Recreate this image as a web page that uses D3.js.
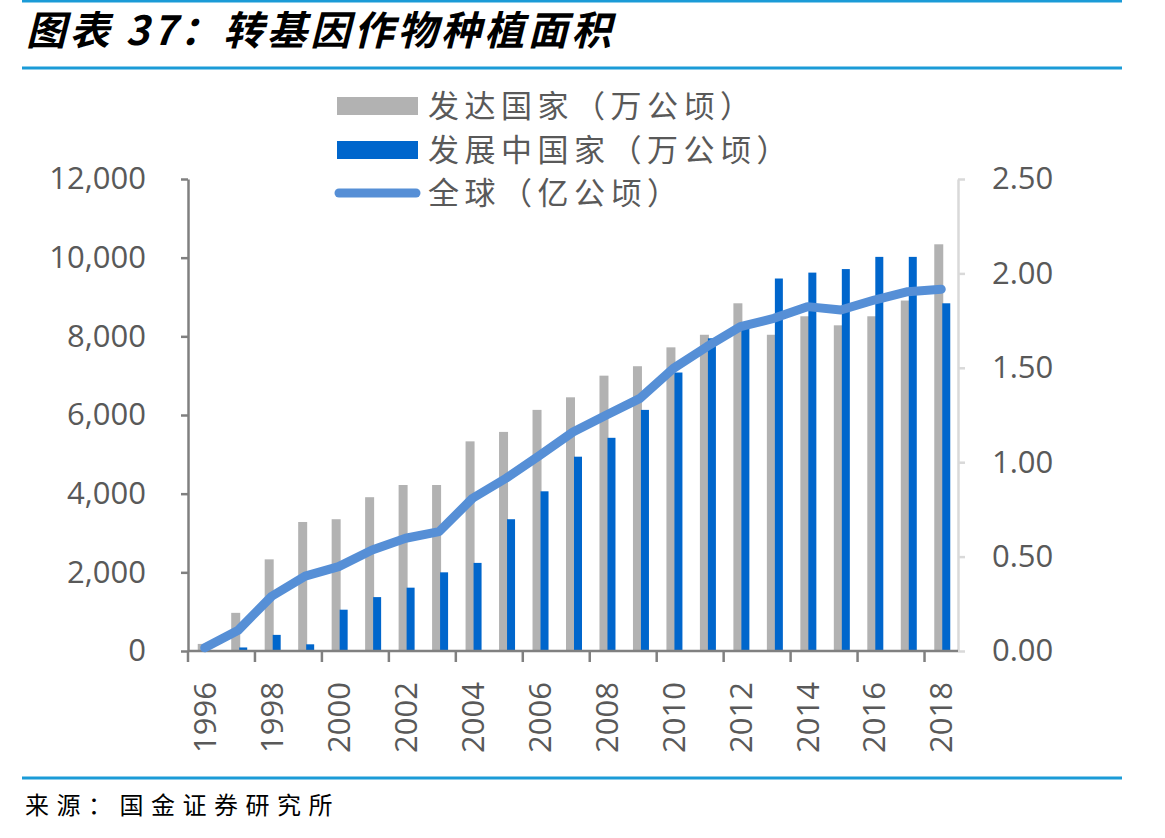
<!DOCTYPE html>
<html>
<head>
<meta charset="utf-8">
<script src="https://cdn.jsdelivr.net/npm/d3@7"></script>
<style>
  body { margin: 0; background: #fff; }
  svg { display: block; }
  .cjk { font-family: "Noto Sans CJK SC", sans-serif; }
  .num { font-family: "Open Sans", sans-serif; }
</style>
</head>
<body>
<svg></svg>
<script>
// Data
const years = d3.range(1996, 2019).map(String)
const developed = [180, 970, 2330, 3280, 3350, 3910, 4220, 4220, 5330, 5570, 6130, 6450, 7000, 7240, 7720, 8040, 8840, 8040, 8510, 8280, 8510, 8910, 10340]
const developing = [0, 90, 410, 170, 1050, 1370, 1610, 2000, 2240, 3350, 4060, 4940, 5420, 6130, 7080, 7950, 8200, 9470, 9620, 9710, 10020, 10020, 8840]
const global = [0.017, 0.11, 0.29, 0.397, 0.447, 0.535, 0.597, 0.632, 0.809, 0.915, 1.035, 1.16, 1.25, 1.338, 1.497, 1.612, 1.718, 1.762, 1.824, 1.806, 1.859, 1.903, 1.916]
const leftTicks = [0, 2000, 4000, 6000, 8000, 10000, 12000]
const rightTicks = [0, 0.5, 1, 1.5, 2, 2.5]
const labelYears = years.filter((d, i) => i % 2 === 0)
const legendNames = ['发达国家（万公顷）', '发展中国家（万公顷）', '全球（亿公顷）']

// Initialization
const width = 1165
const height = 838
const plot = { left: 188, right: 958, top: 179, bottom: 651 }
const gray = '#b2b2b2'
const blue = '#0066cc'
const lineBlue = '#568fd6'
const rule = '#1b9bd7'
const textGray = '#595959'

const svg = d3.select('svg').attr('width', width).attr('height', height)

const x = d3.scaleBand().domain(years).range([plot.left, plot.right]).padding(0)
const xSub = d3.scaleBand().domain(['developed', 'developing']).range([0, 16])
const yL = d3.scaleLinear().domain([0, 12000]).range([plot.bottom, plot.top])
const yR = d3.scaleLinear().domain([0, 2.5]).range([plot.bottom, plot.top])

// Title and rules
svg.append('line').attr('x1', 22).attr('x2', 1122).attr('y1', 1).attr('y2', 1)
  .attr('stroke', rule).attr('stroke-width', 3)
svg.append('text').attr('class', 'cjk')
  .attr('x', 26).attr('y', 45)
  .attr('font-size', 40).attr('font-weight', 700).attr('font-style', 'italic')
  .attr('letter-spacing', 3.5)
  .attr('fill', '#000')
  .text('图表 37：转基因作物种植面积')
svg.append('line').attr('x1', 22).attr('x2', 1122).attr('y1', 68).attr('y2', 68)
  .attr('stroke', rule).attr('stroke-width', 3)
svg.append('line').attr('x1', 22).attr('x2', 1122).attr('y1', 778).attr('y2', 778)
  .attr('stroke', rule).attr('stroke-width', 3)
svg.append('text').attr('class', 'cjk')
  .attr('x', 25).attr('y', 814)
  .attr('font-size', 24).attr('letter-spacing', 7.5)
  .attr('fill', '#000')
  .text('来源：国金证券研究所')

// Bars
const rows = years.map((yr, i) => ({ yr, developed: developed[i], developing: developing[i] }))
const groups = svg.append('g').selectAll('g').data(rows).enter().append('g')
  .attr('transform', (d) => `translate(${x(d.yr) + x.bandwidth() / 2 - 7},0)`)
groups.append('rect')
  .attr('x', xSub('developed')).attr('width', xSub.bandwidth() + 1)
  .attr('y', (d) => yL(d.developed)).attr('height', (d) => yL(0) - yL(d.developed))
  .attr('fill', gray)
groups.append('rect')
  .attr('x', xSub('developing')).attr('width', xSub.bandwidth())
  .attr('y', (d) => yL(d.developing)).attr('height', (d) => yL(0) - yL(d.developing))
  .attr('fill', blue)

// Axes
const leftAxis = svg.append('g').attr('transform', `translate(${plot.left},0)`)
  .call(d3.axisLeft(yL).tickValues(leftTicks).tickFormat(d3.format(',')).tickSize(7).tickSizeOuter(0).tickPadding(35))
leftAxis.selectAll('line, path').attr('stroke', '#808080').attr('stroke-width', 2.5)
leftAxis.selectAll('text').attr('class', 'num').attr('font-size', 31).attr('fill', textGray)

const rightAxis = svg.append('g').attr('transform', `translate(${plot.right},0)`)
  .call(d3.axisRight(yR).tickValues(rightTicks).tickFormat(d3.format('.2f')).tickSize(7).tickSizeOuter(0).tickPadding(27))
rightAxis.selectAll('line, path').attr('stroke', '#d9d9d9').attr('stroke-width', 2.5)
rightAxis.selectAll('text').attr('class', 'num').attr('font-size', 31).attr('fill', textGray)

const bottom = svg.append('g')
bottom.append('line').attr('x1', plot.left).attr('x2', plot.right)
  .attr('y1', plot.bottom).attr('y2', plot.bottom)
  .attr('stroke', '#808080').attr('stroke-width', 2.5)
bottom.selectAll('.tick').data(labelYears).enter().append('line')
  .attr('x1', (d) => x(d)).attr('x2', (d) => x(d))
  .attr('y1', plot.bottom).attr('y2', plot.bottom + 11)
  .attr('stroke', '#808080').attr('stroke-width', 2.5)
bottom.selectAll('text').data(labelYears).enter().append('text')
  .attr('class', 'num')
  .attr('transform', (d) => `translate(${x(d) + x.bandwidth() / 2},682) rotate(-90)`)
  .attr('text-anchor', 'end').attr('dy', '0.36em')
  .attr('font-size', 31).attr('fill', textGray)
  .text((d) => d)

// Global line
const line = d3.line()
  .x((d, i) => x(years[i]) + x.bandwidth() / 2)
  .y((d) => yR(d))
svg.append('path').datum(global)
  .attr('d', line)
  .attr('fill', 'none').attr('stroke', lineBlue).attr('stroke-width', 9)
  .attr('stroke-linejoin', 'round').attr('stroke-linecap', 'round')

// Legend
const legend = svg.append('g')
const rowY = [106, 150, 193]
legend.append('rect').attr('x', 337).attr('y', rowY[0] - 9).attr('width', 81).attr('height', 18).attr('fill', gray)
legend.append('rect').attr('x', 337).attr('y', rowY[1] - 9).attr('width', 81).attr('height', 18).attr('fill', blue)
legend.append('line').attr('x1', 339).attr('x2', 416).attr('y1', rowY[2]).attr('y2', rowY[2])
  .attr('stroke', lineBlue).attr('stroke-width', 9).attr('stroke-linecap', 'round')
legend.selectAll('text').data(legendNames).enter().append('text')
  .attr('class', 'cjk')
  .attr('x', 428).attr('y', (d, i) => rowY[i]).attr('dy', '0.36em')
  .attr('font-size', 31).attr('letter-spacing', 5.5).attr('fill', textGray)
  .text((d) => d)
</script>
</body>
</html>
